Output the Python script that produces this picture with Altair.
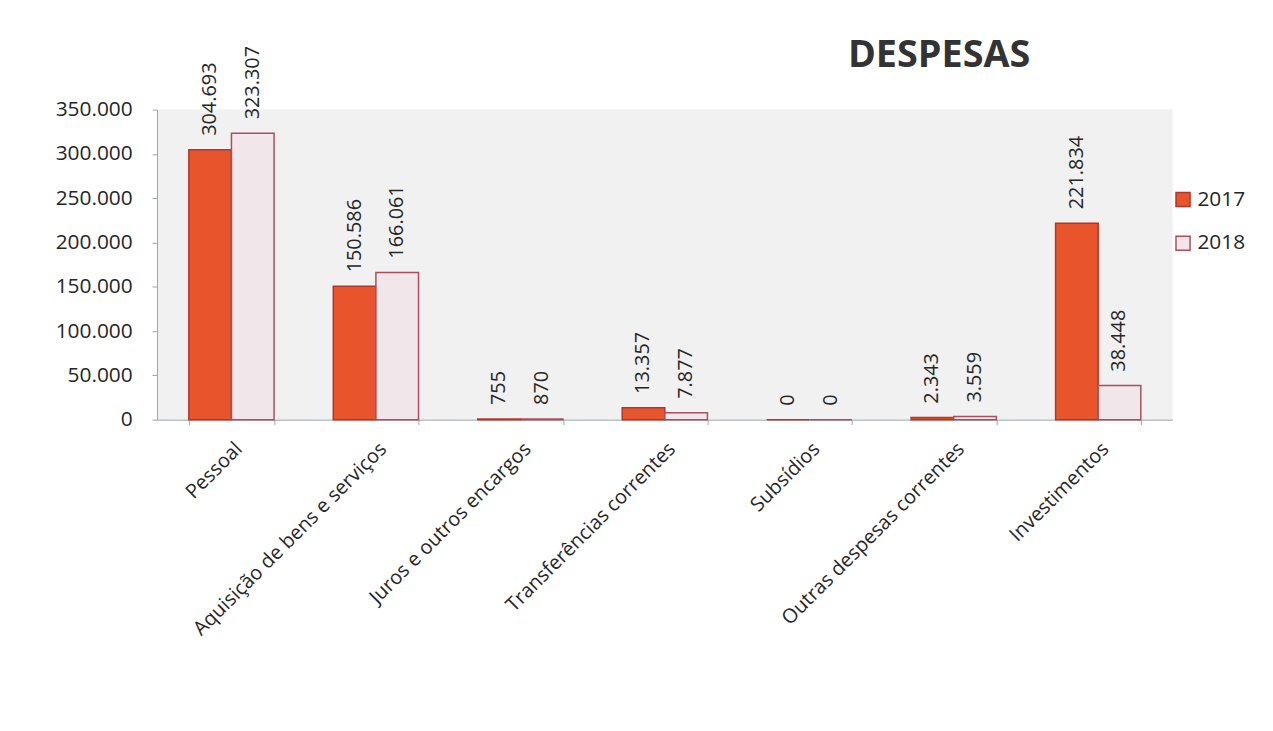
import altair as alt
import pandas as pd

categories = [
    "Pessoal",
    "Aquisição de bens e serviços",
    "Juros e outros encargos",
    "Transferências correntes",
    "Subsídios",
    "Outras despesas correntes",
    "Investimentos",
]
series = ["2017", "2018"]
values_2017 = [304693, 150586, 755, 13357, 0, 2343, 221834]
values_2018 = [323307, 166061, 870, 7877, 0, 3559, 38448]
y_ticks = [0, 50000, 100000, 150000, 200000, 250000, 300000, 350000]

rows = []
for s, vals in zip(series, [values_2017, values_2018]):
    for c, v in zip(categories, vals):
        rows.append({"categoria": c, "ano": s, "valor": v,
                     "rotulo": f"{v:,}".replace(",", ".")})
df = pd.DataFrame(rows)

FONT = "Open Sans"
TXT = "#262626"
AX = "#9aa5aa"

x = alt.X("categoria:N", sort=categories,
          scale=alt.Scale(paddingInner=0.41, paddingOuter=0.22),
          axis=alt.Axis(title=None, labelAngle=-45, labelFontSize=20,
                        labelFont=FONT, labelColor=TXT, labelPadding=14,
                        tickBand="extent", domainColor=AX,
                        tickColor=AX, tickSize=5, labelLimit=400))
xo = alt.XOffset("ano:N", scale=alt.Scale(paddingInner=0, paddingOuter=0))
y = alt.Y("valor:Q", scale=alt.Scale(domain=[0, 350000], nice=False),
          axis=alt.Axis(title=None, values=y_ticks, grid=False,
                        labelExpr="replace(format(datum.value, ','), ',', '.')",
                        labelFontSize=21, labelFont=FONT, labelColor=TXT,
                        domainColor=AX, tickColor=AX,
                        tickSize=5, labelPadding=20))

leg = dict(title=None, orient="none", legendX=1022, legendY=80,
           symbolType="square", symbolSize=200,
           labelFontSize=21, labelFont=FONT, labelColor=TXT,
           rowPadding=22, symbolStrokeWidth=1.5, labelOffset=4)
color = alt.Color("ano:N", scale=alt.Scale(domain=series, range=["#e8542c", "#f1e6ea"]),
                  legend=alt.Legend(**leg))
stroke = alt.Stroke("ano:N", scale=alt.Scale(domain=series, range=["#b0382a", "#a8505e"]),
                    legend=alt.Legend(**leg))

base = alt.Chart(df).encode(x=x, xOffset=xo, y=y)

bars = base.mark_bar(strokeWidth=1.5).encode(color=color, stroke=stroke)

labels = base.mark_text(angle=270, align="left", baseline="middle", dx=14,
                        fontSize=20, font=FONT, color=TXT).encode(text="rotulo:N")

chart = (bars + labels).properties(
    width=1022, height=312,
    title=alt.TitleParams("DESPESAS", fontSize=38, font=FONT, fontWeight="bold",
                          color="#333333", anchor="middle", dx=276, offset=-29),
    autosize=alt.AutoSizeParams(type="none"),
    padding={"left": 150, "top": 100, "right": 93, "bottom": 300},
).configure(background="#ffffff").configure_view(fill="#f1f1f1", stroke=None)

chart.save("out.html", embed_options={"renderer": "svg", "actions": False})
